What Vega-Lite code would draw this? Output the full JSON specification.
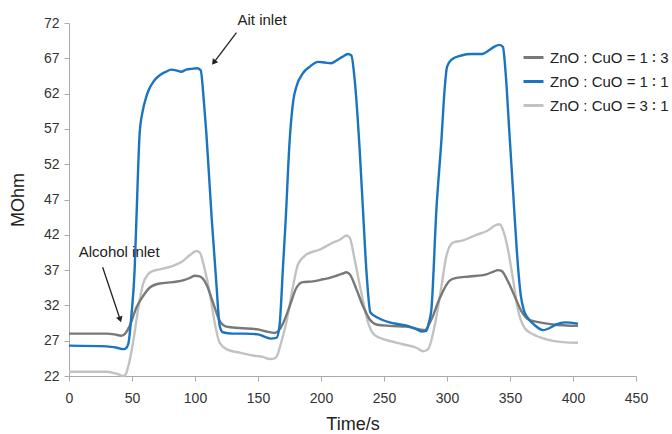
{
  "$schema": "https://vega.github.io/schema/vega-lite/v6.json",
  "width": 567,
  "height": 353,
  "autosize": "none",
  "padding": {"left": 69, "top": 23, "right": 36, "bottom": 58},
  "config": {
    "view": {"stroke": null},
    "font": "Liberation Sans",
    "axis": {
      "grid": false,
      "domainColor": "#aaaaaa",
      "tickColor": "#aaaaaa",
      "tickSize": 5,
      "labelFontSize": 14,
      "labelColor": "#333333",
      "labelFont": "Liberation Sans",
      "labelOverlap": false,
      "labelFlush": false,
      "titleFont": "Liberation Sans",
      "titleFontSize": 18,
      "titleFontWeight": "normal",
      "titleColor": "#222222"
    }
  },
  "datasets": {
    "series": [
      {"t": 0, "v": 22.6, "s": "3 ∶ 1"},
      {"t": 30, "v": 22.6, "s": "3 ∶ 1"},
      {"t": 36, "v": 22.4, "s": "3 ∶ 1"},
      {"t": 40, "v": 22.2, "s": "3 ∶ 1"},
      {"t": 42.9, "v": 22.0, "s": "3 ∶ 1"},
      {"t": 44.5, "v": 22.1, "s": "3 ∶ 1"},
      {"t": 46.8, "v": 23.2, "s": "3 ∶ 1"},
      {"t": 50.8, "v": 26.7, "s": "3 ∶ 1"},
      {"t": 54.8, "v": 31.4, "s": "3 ∶ 1"},
      {"t": 58.7, "v": 35.0, "s": "3 ∶ 1"},
      {"t": 62.7, "v": 36.4, "s": "3 ∶ 1"},
      {"t": 67, "v": 36.9, "s": "3 ∶ 1"},
      {"t": 72, "v": 37.1, "s": "3 ∶ 1"},
      {"t": 82.5, "v": 37.6, "s": "3 ∶ 1"},
      {"t": 90.5, "v": 38.3, "s": "3 ∶ 1"},
      {"t": 95.8, "v": 39.1, "s": "3 ∶ 1"},
      {"t": 101.1, "v": 39.7, "s": "3 ∶ 1"},
      {"t": 103.7, "v": 39.5, "s": "3 ∶ 1"},
      {"t": 107.7, "v": 37.1, "s": "3 ∶ 1"},
      {"t": 111.7, "v": 33.8, "s": "3 ∶ 1"},
      {"t": 115.6, "v": 29.6, "s": "3 ∶ 1"},
      {"t": 119.6, "v": 26.7, "s": "3 ∶ 1"},
      {"t": 126.2, "v": 25.7, "s": "3 ∶ 1"},
      {"t": 135.5, "v": 25.3, "s": "3 ∶ 1"},
      {"t": 146, "v": 24.9, "s": "3 ∶ 1"},
      {"t": 154, "v": 24.7, "s": "3 ∶ 1"},
      {"t": 159.3, "v": 24.4, "s": "3 ∶ 1"},
      {"t": 163.3, "v": 24.5, "s": "3 ∶ 1"},
      {"t": 165.5, "v": 25.0, "s": "3 ∶ 1"},
      {"t": 167.2, "v": 26.0, "s": "3 ∶ 1"},
      {"t": 172.5, "v": 29.6, "s": "3 ∶ 1"},
      {"t": 177.8, "v": 34.7, "s": "3 ∶ 1"},
      {"t": 181.7, "v": 37.8, "s": "3 ∶ 1"},
      {"t": 188.4, "v": 39.2, "s": "3 ∶ 1"},
      {"t": 199, "v": 39.9, "s": "3 ∶ 1"},
      {"t": 209.5, "v": 40.9, "s": "3 ∶ 1"},
      {"t": 215, "v": 41.3, "s": "3 ∶ 1"},
      {"t": 220.2, "v": 41.9, "s": "3 ∶ 1"},
      {"t": 222.8, "v": 41.6, "s": "3 ∶ 1"},
      {"t": 226.7, "v": 38.5, "s": "3 ∶ 1"},
      {"t": 232, "v": 33.8, "s": "3 ∶ 1"},
      {"t": 237.3, "v": 29.6, "s": "3 ∶ 1"},
      {"t": 242.6, "v": 27.8, "s": "3 ∶ 1"},
      {"t": 251.9, "v": 27.1, "s": "3 ∶ 1"},
      {"t": 265.1, "v": 26.5, "s": "3 ∶ 1"},
      {"t": 275.7, "v": 26.0, "s": "3 ∶ 1"},
      {"t": 281, "v": 25.5, "s": "3 ∶ 1"},
      {"t": 285, "v": 25.8, "s": "3 ∶ 1"},
      {"t": 290.2, "v": 29.1, "s": "3 ∶ 1"},
      {"t": 295.6, "v": 34.7, "s": "3 ∶ 1"},
      {"t": 299.5, "v": 39.0, "s": "3 ∶ 1"},
      {"t": 304.8, "v": 40.9, "s": "3 ∶ 1"},
      {"t": 312.7, "v": 41.2, "s": "3 ∶ 1"},
      {"t": 323.3, "v": 42.0, "s": "3 ∶ 1"},
      {"t": 331.3, "v": 42.5, "s": "3 ∶ 1"},
      {"t": 339.2, "v": 43.4, "s": "3 ∶ 1"},
      {"t": 341.8, "v": 43.5, "s": "3 ∶ 1"},
      {"t": 344.4, "v": 42.7, "s": "3 ∶ 1"},
      {"t": 348.4, "v": 39.9, "s": "3 ∶ 1"},
      {"t": 352.4, "v": 35.7, "s": "3 ∶ 1"},
      {"t": 356.3, "v": 31.4, "s": "3 ∶ 1"},
      {"t": 361.7, "v": 28.8, "s": "3 ∶ 1"},
      {"t": 368.3, "v": 27.9, "s": "3 ∶ 1"},
      {"t": 378.9, "v": 27.2, "s": "3 ∶ 1"},
      {"t": 392.1, "v": 26.8, "s": "3 ∶ 1"},
      {"t": 404, "v": 26.7, "s": "3 ∶ 1"},

      {"t": 0, "v": 28.0, "s": "1 ∶ 3"},
      {"t": 30, "v": 28.0, "s": "1 ∶ 3"},
      {"t": 36, "v": 27.9, "s": "1 ∶ 3"},
      {"t": 41.6, "v": 27.7, "s": "1 ∶ 3"},
      {"t": 45, "v": 28.1, "s": "1 ∶ 3"},
      {"t": 48.2, "v": 29.1, "s": "1 ∶ 3"},
      {"t": 53.5, "v": 31.7, "s": "1 ∶ 3"},
      {"t": 58.7, "v": 33.3, "s": "1 ∶ 3"},
      {"t": 64, "v": 34.5, "s": "1 ∶ 3"},
      {"t": 72, "v": 35.1, "s": "1 ∶ 3"},
      {"t": 82.5, "v": 35.3, "s": "1 ∶ 3"},
      {"t": 91.8, "v": 35.6, "s": "1 ∶ 3"},
      {"t": 96, "v": 35.9, "s": "1 ∶ 3"},
      {"t": 99.8, "v": 36.2, "s": "1 ∶ 3"},
      {"t": 103.7, "v": 36.1, "s": "1 ∶ 3"},
      {"t": 109, "v": 35.0, "s": "1 ∶ 3"},
      {"t": 114.3, "v": 32.4, "s": "1 ∶ 3"},
      {"t": 119.6, "v": 29.8, "s": "1 ∶ 3"},
      {"t": 124.9, "v": 29.0, "s": "1 ∶ 3"},
      {"t": 135.5, "v": 28.8, "s": "1 ∶ 3"},
      {"t": 150, "v": 28.6, "s": "1 ∶ 3"},
      {"t": 156.7, "v": 28.3, "s": "1 ∶ 3"},
      {"t": 163.3, "v": 28.1, "s": "1 ∶ 3"},
      {"t": 167.2, "v": 28.6, "s": "1 ∶ 3"},
      {"t": 171.2, "v": 30.0, "s": "1 ∶ 3"},
      {"t": 175.2, "v": 31.9, "s": "1 ∶ 3"},
      {"t": 180.5, "v": 34.5, "s": "1 ∶ 3"},
      {"t": 185.7, "v": 35.3, "s": "1 ∶ 3"},
      {"t": 193.7, "v": 35.4, "s": "1 ∶ 3"},
      {"t": 201.6, "v": 35.7, "s": "1 ∶ 3"},
      {"t": 206.9, "v": 35.9, "s": "1 ∶ 3"},
      {"t": 212.2, "v": 36.2, "s": "1 ∶ 3"},
      {"t": 217, "v": 36.5, "s": "1 ∶ 3"},
      {"t": 220.2, "v": 36.7, "s": "1 ∶ 3"},
      {"t": 222.8, "v": 36.4, "s": "1 ∶ 3"},
      {"t": 228.1, "v": 34.3, "s": "1 ∶ 3"},
      {"t": 233.3, "v": 31.9, "s": "1 ∶ 3"},
      {"t": 238.7, "v": 30.0, "s": "1 ∶ 3"},
      {"t": 244, "v": 29.3, "s": "1 ∶ 3"},
      {"t": 254.5, "v": 29.1, "s": "1 ∶ 3"},
      {"t": 267.8, "v": 29.0, "s": "1 ∶ 3"},
      {"t": 278.3, "v": 28.6, "s": "1 ∶ 3"},
      {"t": 282.3, "v": 28.5, "s": "1 ∶ 3"},
      {"t": 287.6, "v": 30.0, "s": "1 ∶ 3"},
      {"t": 294.2, "v": 33.0, "s": "1 ∶ 3"},
      {"t": 302.1, "v": 35.5, "s": "1 ∶ 3"},
      {"t": 307.5, "v": 35.9, "s": "1 ∶ 3"},
      {"t": 318, "v": 36.1, "s": "1 ∶ 3"},
      {"t": 331.3, "v": 36.4, "s": "1 ∶ 3"},
      {"t": 337, "v": 36.8, "s": "1 ∶ 3"},
      {"t": 340.5, "v": 37.0, "s": "1 ∶ 3"},
      {"t": 343.2, "v": 36.9, "s": "1 ∶ 3"},
      {"t": 348.4, "v": 35.4, "s": "1 ∶ 3"},
      {"t": 353.7, "v": 33.3, "s": "1 ∶ 3"},
      {"t": 359, "v": 31.2, "s": "1 ∶ 3"},
      {"t": 365.6, "v": 29.9, "s": "1 ∶ 3"},
      {"t": 373.6, "v": 29.6, "s": "1 ∶ 3"},
      {"t": 384.1, "v": 29.3, "s": "1 ∶ 3"},
      {"t": 404, "v": 29.1, "s": "1 ∶ 3"},

      {"t": 0, "v": 26.3, "s": "1 ∶ 1"},
      {"t": 30, "v": 26.2, "s": "1 ∶ 1"},
      {"t": 38, "v": 26.0, "s": "1 ∶ 1"},
      {"t": 43, "v": 25.8, "s": "1 ∶ 1"},
      {"t": 45, "v": 25.9, "s": "1 ∶ 1"},
      {"t": 47, "v": 26.5, "s": "1 ∶ 1"},
      {"t": 49.5, "v": 30.5, "s": "1 ∶ 1"},
      {"t": 52.1, "v": 37.1, "s": "1 ∶ 1"},
      {"t": 53.5, "v": 44.2, "s": "1 ∶ 1"},
      {"t": 56.1, "v": 56.4, "s": "1 ∶ 1"},
      {"t": 58.7, "v": 59.7, "s": "1 ∶ 1"},
      {"t": 60.6, "v": 61.1, "s": "1 ∶ 1"},
      {"t": 63, "v": 62.4, "s": "1 ∶ 1"},
      {"t": 67, "v": 63.7, "s": "1 ∶ 1"},
      {"t": 72, "v": 64.6, "s": "1 ∶ 1"},
      {"t": 77, "v": 65.1, "s": "1 ∶ 1"},
      {"t": 81, "v": 65.4, "s": "1 ∶ 1"},
      {"t": 85, "v": 65.3, "s": "1 ∶ 1"},
      {"t": 89, "v": 65.1, "s": "1 ∶ 1"},
      {"t": 93, "v": 65.4, "s": "1 ∶ 1"},
      {"t": 97, "v": 65.5, "s": "1 ∶ 1"},
      {"t": 102, "v": 65.6, "s": "1 ∶ 1"},
      {"t": 104.5, "v": 65.3, "s": "1 ∶ 1"},
      {"t": 107, "v": 61, "s": "1 ∶ 1"},
      {"t": 109, "v": 56.4, "s": "1 ∶ 1"},
      {"t": 113.3, "v": 44.2, "s": "1 ∶ 1"},
      {"t": 117, "v": 35, "s": "1 ∶ 1"},
      {"t": 119.6, "v": 29.1, "s": "1 ∶ 1"},
      {"t": 122, "v": 28.2, "s": "1 ∶ 1"},
      {"t": 130, "v": 28.0, "s": "1 ∶ 1"},
      {"t": 140, "v": 28.0, "s": "1 ∶ 1"},
      {"t": 150, "v": 27.9, "s": "1 ∶ 1"},
      {"t": 156, "v": 27.5, "s": "1 ∶ 1"},
      {"t": 160, "v": 27.3, "s": "1 ∶ 1"},
      {"t": 164.6, "v": 27.4, "s": "1 ∶ 1"},
      {"t": 167, "v": 29, "s": "1 ∶ 1"},
      {"t": 170, "v": 38, "s": "1 ∶ 1"},
      {"t": 172, "v": 44.2, "s": "1 ∶ 1"},
      {"t": 175, "v": 55, "s": "1 ∶ 1"},
      {"t": 178, "v": 61, "s": "1 ∶ 1"},
      {"t": 180.5, "v": 63.0, "s": "1 ∶ 1"},
      {"t": 185.7, "v": 64.9, "s": "1 ∶ 1"},
      {"t": 191, "v": 65.8, "s": "1 ∶ 1"},
      {"t": 197.6, "v": 66.5, "s": "1 ∶ 1"},
      {"t": 203, "v": 66.4, "s": "1 ∶ 1"},
      {"t": 208.2, "v": 66.3, "s": "1 ∶ 1"},
      {"t": 212.2, "v": 66.7, "s": "1 ∶ 1"},
      {"t": 217, "v": 67.2, "s": "1 ∶ 1"},
      {"t": 221.4, "v": 67.6, "s": "1 ∶ 1"},
      {"t": 224.1, "v": 67.4, "s": "1 ∶ 1"},
      {"t": 226.7, "v": 64, "s": "1 ∶ 1"},
      {"t": 230.7, "v": 54, "s": "1 ∶ 1"},
      {"t": 233.3, "v": 45.6, "s": "1 ∶ 1"},
      {"t": 236, "v": 37, "s": "1 ∶ 1"},
      {"t": 239.2, "v": 31.0, "s": "1 ∶ 1"},
      {"t": 242.6, "v": 30.5, "s": "1 ∶ 1"},
      {"t": 248, "v": 30.0, "s": "1 ∶ 1"},
      {"t": 254.5, "v": 29.6, "s": "1 ∶ 1"},
      {"t": 263, "v": 29.3, "s": "1 ∶ 1"},
      {"t": 270.4, "v": 29.0, "s": "1 ∶ 1"},
      {"t": 276, "v": 28.6, "s": "1 ∶ 1"},
      {"t": 279.7, "v": 28.3, "s": "1 ∶ 1"},
      {"t": 283.7, "v": 28.4, "s": "1 ∶ 1"},
      {"t": 285.5, "v": 29.5, "s": "1 ∶ 1"},
      {"t": 287.6, "v": 31.4, "s": "1 ∶ 1"},
      {"t": 291.6, "v": 45.6, "s": "1 ∶ 1"},
      {"t": 295.6, "v": 55.5, "s": "1 ∶ 1"},
      {"t": 298.2, "v": 62.8, "s": "1 ∶ 1"},
      {"t": 300, "v": 65.8, "s": "1 ∶ 1"},
      {"t": 303.5, "v": 66.8, "s": "1 ∶ 1"},
      {"t": 311.4, "v": 67.4, "s": "1 ∶ 1"},
      {"t": 319.4, "v": 67.6, "s": "1 ∶ 1"},
      {"t": 327.3, "v": 67.6, "s": "1 ∶ 1"},
      {"t": 333.9, "v": 68.2, "s": "1 ∶ 1"},
      {"t": 338, "v": 68.7, "s": "1 ∶ 1"},
      {"t": 341.8, "v": 68.9, "s": "1 ∶ 1"},
      {"t": 344.4, "v": 68.6, "s": "1 ∶ 1"},
      {"t": 346.5, "v": 65.0, "s": "1 ∶ 1"},
      {"t": 349.5, "v": 56.5, "s": "1 ∶ 1"},
      {"t": 352.5, "v": 48.0, "s": "1 ∶ 1"},
      {"t": 355.5, "v": 39.5, "s": "1 ∶ 1"},
      {"t": 358.5, "v": 33.5, "s": "1 ∶ 1"},
      {"t": 361, "v": 31.3, "s": "1 ∶ 1"},
      {"t": 364.3, "v": 30.2, "s": "1 ∶ 1"},
      {"t": 369.6, "v": 29.2, "s": "1 ∶ 1"},
      {"t": 376.2, "v": 28.5, "s": "1 ∶ 1"},
      {"t": 381.5, "v": 28.8, "s": "1 ∶ 1"},
      {"t": 386.8, "v": 29.3, "s": "1 ∶ 1"},
      {"t": 393.4, "v": 29.6, "s": "1 ∶ 1"},
      {"t": 404, "v": 29.4, "s": "1 ∶ 1"}
    ],
    "labels": [
      {"t": 133.7, "v": 72.4, "text": "Ait inlet"},
      {"t": 7.7, "v": 39.6, "text": "Alcohol inlet"}
    ],
    "arrows": [
      {"t": 132.9, "v": 70.65, "t2": 114.9, "v2": 66.4},
      {"t": 26.7, "v": 37.4, "t2": 40.6, "v2": 30.0}
    ]
  },
  "layer": [
    {
      "data": {"name": "series"},
      "mark": {"type": "line", "interpolate": "monotone", "strokeWidth": 2.4},
      "encoding": {
        "x": {
          "field": "t", "type": "quantitative",
          "scale": {"domain": [0, 450], "nice": false, "zero": false},
          "axis": {
            "title": "Time/s",
            "values": [0, 50, 100, 150, 200, 250, 300, 350, 400, 450],
            "labelPadding": 10,
            "labelOverlap": false,
            "titleY": 53,
            "titleBaseline": "alphabetic"
          }
        },
        "y": {
          "field": "v", "type": "quantitative",
          "scale": {"domain": [22, 72], "nice": false, "zero": false},
          "axis": {
            "title": "MOhm",
            "values": [22, 27, 32, 37, 42, 47, 52, 57, 62, 67, 72],
            "tickCount": 11,
            "labelOverlap": false,
            "labelPadding": 5,
            "titleX": -51,
            "titleY": 176.5,
            "titleAngle": -90,
            "titleAlign": "center",
            "titleBaseline": "middle"
          }
        },
        "color": {
          "field": "s", "type": "nominal",
          "scale": {
            "domain": ["1 ∶ 3", "1 ∶ 1", "3 ∶ 1"],
            "range": ["#787878", "#1a74c1", "#c2c2c2"]
          },
          "legend": {
            "title": null,
            "orient": "none",
            "legendX": 453,
            "legendY": 23,
            "symbolType": "stroke",
            "symbolSize": 400,
            "symbolStrokeWidth": 3,
            "labelFontSize": 15,
            "labelFont": "Liberation Sans",
            "labelColor": "#222222",
            "labelOffset": 5,
            "rowPadding": 4,
            "padding": 0,
            "labelExpr": "'ZnO : CuO = ' + datum.label"
          }
        }
      }
    },
    {
      "data": {"name": "arrows"},
      "mark": {"type": "rule", "color": "#222222", "strokeWidth": 1.3, "clip": false},
      "encoding": {
        "x": {"field": "t", "type": "quantitative"},
        "y": {"field": "v", "type": "quantitative"},
        "x2": {"field": "t2"},
        "y2": {"field": "v2"}
      }
    },
    {
      "data": {"values": [{"t": 114.9, "v": 66.4}]},
      "mark": {"type": "point", "shape": "triangle-up", "filled": true, "color": "#222222", "size": 45, "angle": 217, "opacity": 1},
      "encoding": {
        "x": {"field": "t", "type": "quantitative"},
        "y": {"field": "v", "type": "quantitative"}
      }
    },
    {
      "data": {"values": [{"t": 40.6, "v": 30.0}]},
      "mark": {"type": "point", "shape": "triangle-up", "filled": true, "color": "#222222", "size": 45, "angle": 162, "opacity": 1},
      "encoding": {
        "x": {"field": "t", "type": "quantitative"},
        "y": {"field": "v", "type": "quantitative"}
      }
    },
    {
      "data": {"name": "labels"},
      "mark": {"type": "text", "align": "left", "baseline": "middle", "fontSize": 15, "font": "Liberation Sans", "color": "#222222", "clip": false},
      "encoding": {
        "x": {"field": "t", "type": "quantitative"},
        "y": {"field": "v", "type": "quantitative"},
        "text": {"field": "text"}
      }
    }
  ]
}
